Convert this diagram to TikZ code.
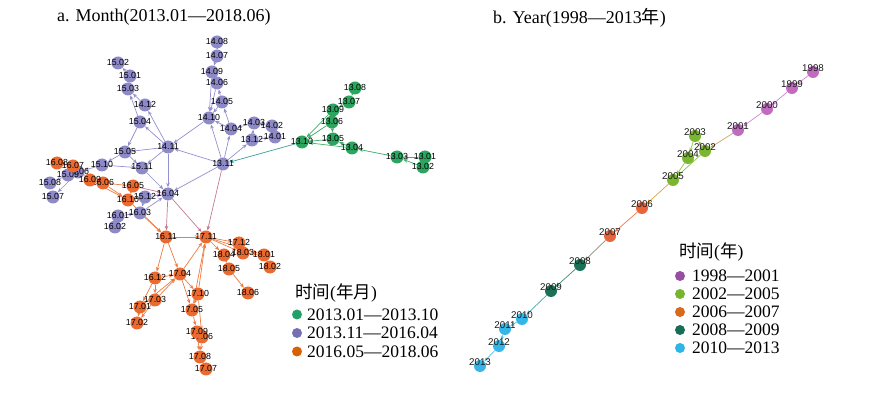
\documentclass[tikz,border=0pt]{standalone}
\usepackage{fontspec}
\setmainfont{Liberation Serif}
\newfontfamily\labfont{Liberation Sans}
\newfontfamily\cjk{Noto Sans CJK SC}
\usetikzlibrary{arrows.meta}
\pgfdeclarelayer{bg}
\pgfsetlayers{bg,main}

\definecolor{gfill}{HTML}{2BA55F}
\definecolor{pfill}{HTML}{8E8AC8}
\definecolor{ofill}{HTML}{EA6A30}
\definecolor{gedge}{HTML}{3FAE6A}
\definecolor{pedge}{HTML}{9490D0}
\definecolor{oedge}{HTML}{F07A40}
\definecolor{medge}{HTML}{C27A92}
\definecolor{tedge}{HTML}{3B9E98}
\definecolor{lga}{HTML}{23A068}
\definecolor{lgb}{HTML}{7570B3}
\definecolor{lgc}{HTML}{D95F02}
\definecolor{ya}{HTML}{C06BC0}
\definecolor{yb}{HTML}{7AB630}
\definecolor{yc}{HTML}{E8643A}
\definecolor{yd}{HTML}{1A7156}
\definecolor{ye}{HTML}{35B6E6}
\definecolor{yea}{HTML}{D383D3}
\definecolor{yeb}{HTML}{8BC34A}
\definecolor{yec}{HTML}{F07850}
\definecolor{yed}{HTML}{3C8C6A}
\definecolor{yee}{HTML}{4CC0E8}
\definecolor{yab}{HTML}{C8A46E}
\definecolor{ybc}{HTML}{E0A43A}
\definecolor{ycd}{HTML}{8E8A70}
\definecolor{yde}{HTML}{3AA8B8}
\definecolor{lya}{HTML}{984EA3}
\definecolor{lyb}{HTML}{77B52E}
\definecolor{lyc}{HTML}{D9691E}
\definecolor{lyd}{HTML}{156E55}
\definecolor{lye}{HTML}{2DB5E8}

\tikzset{
	mon/.style={circle, inner sep=0pt, minimum size=13pt, fill=#1},
	yr/.style={circle, inner sep=0pt, minimum size=12pt, fill=#1},
	lab/.style={font=\labfont\fontsize{8.8}{9}\selectfont, text=black, inner sep=0pt, yshift=1pt},
	ylab/.style={font=\labfont\fontsize{9.8}{10}\selectfont, text=black!90, inner sep=0pt, yshift=4pt},
	arr/.style={draw=#1, line width=0.7pt, -{Stealth[length=4.5pt,width=3.6pt]}},
	legdot/.style={circle, inner sep=0pt, minimum size=10pt, fill=#1},
	legtxt/.style={anchor=west, inner sep=0pt, font=\fontsize{17.5}{18}\selectfont},
}

\begin{document}
\begin{tikzpicture}[x=1pt, y=-1pt]
	\useasboundingbox (0,0) rectangle (884,395);
	% titles
	\node[legtxt, font=\fontsize{18}{20}\selectfont] (ta) at (57,17) {a. Month(2013.01—2018.06)};
	\node[legtxt, font=\fontsize{18}{20}\selectfont] (tb) at (493,18) {b. Year(1998—2013{\cjk 年})};

	% month network
	\foreach \a/\b/\x/\y in {13/01/425/157, 13/02/423/167, 13/03/397/157, 13/04/352/148,
		13/05/333/139, 13/06/332/122, 13/07/349/102, 13/08/355/88, 13/09/333/110, 13/10/302/142}
	\node[mon=gfill, label={[lab]center:\a.\b}] (m\a\b) at (\x,\y) {};
	\foreach \a/\b/\x/\y in {13/11/223/164, 13/12/252/140, 14/01/275/137, 14/02/272/126,
		14/03/254/123, 14/04/231/129, 14/05/222/102, 14/06/217/83, 14/07/217/56, 14/08/217/42,
		14/09/212/72, 14/10/209/118, 14/11/168/147, 14/12/145/105, 15/01/130/76, 15/02/118/63,
		15/03/128/89, 15/04/140/122, 15/05/125/152, 15/06/78/172, 15/07/53/197, 15/08/50/183,
		15/09/68/175, 15/10/102/165, 15/11/142/168, 15/12/145/197, 16/01/118/216, 16/02/115/227,
		16/03/140/213, 16/04/168/194}
	\node[mon=pfill, label={[lab]center:\a.\b}] (m\a\b) at (\x,\y) {};
	\foreach \a/\b/\x/\y in {16/05/133/186, 16/06/103/183, 16/07/73/166, 16/08/57/163,
		16/09/90/180, 16/10/128/200, 16/11/166/237, 16/12/155/278, 17/01/140/307, 17/02/137/323,
		17/03/155/300, 17/04/180/274, 17/05/192/310, 17/06/202/337, 17/07/206/369, 17/08/200/357,
		17/09/197/332, 17/10/198/294, 17/11/206/237, 17/12/239/243, 18/01/264/255, 18/02/270/267,
		18/03/243/253, 18/04/224/255, 18/05/229/269, 18/06/248/293}
	\node[mon=ofill, label={[lab]center:\a.\b}] (m\a\b) at (\x,\y) {};

	\begin{pgfonlayer}{bg}
		\foreach \s/\t in {1302/1303, 1301/1303, 1303/1304, 1304/1305, 1304/1310, 1305/1310,
			1306/1310, 1309/1310, 1306/1305, 1307/1309, 1308/1307, 1309/1306}
		\draw[arr=gedge] (m\s) -- (m\t);
		\draw[arr=tedge] (m1310) -- (m1311);
		\foreach \s/\t in {1408/1407, 1407/1409, 1409/1406, 1409/1410, 1406/1410, 1405/1406,
			1404/1405, 1405/1410, 1404/1410, 1311/1410, 1311/1404, 1311/1312, 1312/1403,
			1312/1401, 1401/1402, 1403/1402, 1403/1404, 1311/1411, 1410/1411, 1311/1604,
			1411/1412, 1411/1504, 1411/1505, 1411/1511, 1411/1604, 1504/1505, 1412/1503,
			1504/1503, 1503/1501, 1501/1502, 1505/1510, 1505/1511, 1510/1511, 1510/1506,
			1506/1509, 1509/1508, 1506/1507, 1511/1604, 1512/1604, 1603/1604, 1512/1603,
			1601/1603, 1602/1601}
		\draw[arr=pedge] (m\s) -- (m\t);
		\foreach \s/\t in {1604/1611, 1604/1711, 1311/1711, 1605/1604}
		\draw[arr=medge] (m\s) -- (m\t);
		\foreach \s/\t in {1608/1607, 1607/1609, 1609/1606, 1606/1605, 1606/1610, 1609/1610,
			1605/1610, 1610/1611, 1603/1611, 1611/1711, 1611/1612, 1611/1704, 1612/1704,
			1612/1703, 1612/1701, 1703/1704, 1701/1704, 1703/1702, 1701/1702, 1704/1711,
			1704/1710, 1704/1705, 1710/1711, 1705/1711, 1710/1705, 1705/1709, 1710/1706,
			1709/1708, 1706/1708, 1708/1707, 1711/1712, 1711/1804, 1711/1803, 1711/1801,
			1803/1801, 1802/1801, 1804/1805, 1805/1806}
		\draw[arr=oedge] (m\s) -- (m\t);
	\end{pgfonlayer}

	% year chain
	\foreach \n/\x/\y/\c in {1998/813/72/ya, 1999/792/88/ya, 2000/767/109/ya, 2001/738/130/ya,
		2002/705/151/yb, 2003/695/136/yb, 2004/688/158/yb, 2005/673/180/yb,
		2006/642/208/yc, 2007/610/236/yc, 2008/580/265/yd, 2009/551/291/yd,
		2010/522/319/ye, 2011/505/329/ye, 2012/499/346/ye, 2013/480/366/ye}
	\node[yr=\c, label={[ylab]center:\n}] (y\n) at (\x,\y) {};

	\begin{pgfonlayer}{bg}
		\foreach \s/\t/\c in {1998/1999/yea, 1999/2000/yea, 2000/2001/yea, 2001/2002/yab,
			2002/2003/yeb, 2003/2004/yeb, 2004/2005/yeb, 2002/2005/yeb, 2005/2006/ybc,
			2006/2007/yec, 2007/2008/ycd, 2008/2009/yed, 2009/2010/yde, 2010/2011/yee,
			2011/2012/yee, 2012/2013/yee}
		\draw[arr=\c] (y\s) -- (y\t);
	\end{pgfonlayer}

	% legends
	\node[legtxt] (lat) at (295,293) {{\cjk 时间}({\cjk 年月})};
	\foreach \c/\t [count=\i] in {lga/2013.01—2013.10, lgb/2013.11—2016.04, lgc/2016.05—2018.06} {
		\node[legdot=\c] (lad\i) at (297,296+18.5*\i) {};
		\node[legtxt] (la\i) at (307,296+18.5*\i) {\t};
	}
	\node[legtxt] (lbt) at (679,252) {{\cjk 时间}({\cjk 年})};
	\foreach \c/\t [count=\i] in {lya/1998—2001, lyb/2002—2005, lyc/2006—2007, lyd/2008—2009, lye/2010—2013} {
		\node[legdot=\c] (lbd\i) at (680,258+18*\i) {};
		\node[legtxt] (lb\i) at (692,258+18*\i) {\t};
	}
\end{tikzpicture}
\end{document}
